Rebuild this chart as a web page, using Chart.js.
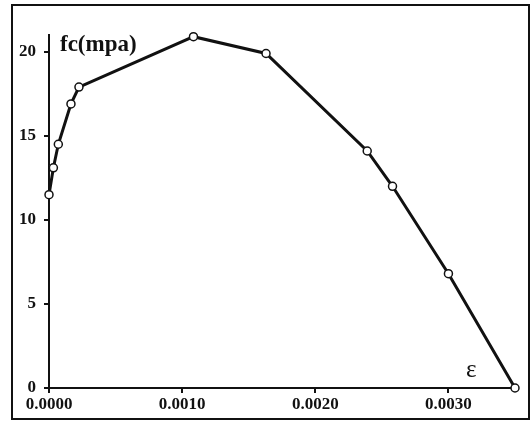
<!DOCTYPE html>
<html>
<head>
<meta charset="utf-8">
<script src="https://cdn.jsdelivr.net/npm/chart.js@4"></script>
<style>
html,body{margin:0;padding:0;background:#fff;}
#wrap{width:531px;height:422px;}
</style>
</head>
<body>
<div id="wrap"><canvas id="c" width="531" height="422"></canvas></div>
<script>
const strainValues = [0.0000, 0.000033, 0.00007, 0.000165, 0.000225, 0.001085, 0.00163, 0.00239, 0.00258, 0.0030, 0.0035];
const stressValues = [11.5, 13.1, 14.5, 16.9, 17.9, 20.9, 19.9, 14.1, 12.0, 6.8, 0.0];
const xTicks = [0, 0.001, 0.002, 0.003];
const yTicks = [0, 5, 10, 15, 20];
const yTitle = 'fc(mpa)';
const xTitle = 'ε';

const points = strainValues.map((x, i) => ({x: x, y: stressValues[i]}));

const framePlugin = {
  id: 'frame',
  beforeDraw(chart) {
    const ctx = chart.ctx;
    ctx.save();
    ctx.fillStyle = '#fff';
    ctx.fillRect(0, 0, chart.width, chart.height);
    ctx.restore();
  },
  afterDraw(chart) {
    const ctx = chart.ctx;
    ctx.save();
    ctx.strokeStyle = '#111';
    ctx.lineWidth = 2;
    ctx.strokeRect(12, 5, 517, 414);
    ctx.fillStyle = '#111';
    ctx.font = 'bold 23px "Liberation Serif", "DejaVu Serif", serif';
    ctx.textBaseline = 'alphabetic';
    ctx.fillText(yTitle, 60, 51);
    ctx.font = '25px "Liberation Serif", "DejaVu Serif", serif';
    ctx.fillText(xTitle, 466, 377);
    ctx.restore();
  }
};

new Chart(document.getElementById('c'), {
  type: 'scatter',
  data: {
    datasets: [{
      data: points,
      showLine: true,
      clip: false,
      borderColor: '#111',
      borderWidth: 3,
      pointRadius: 4,
      pointHoverRadius: 4,
      pointBackgroundColor: '#fff',
      pointBorderColor: '#111',
      pointBorderWidth: 1.5,
      tension: 0
    }]
  },
  options: {
    responsive: false,
    animation: false,
    events: [],
    layout: {padding: {left: 0, top: 35, right: 16, bottom: 0}},
    plugins: {legend: {display: false}, tooltip: {enabled: false}},
    scales: {
      x: {
        type: 'linear',
        min: 0,
        max: 0.0035,
        afterBuildTicks(scale) { scale.ticks = xTicks.map(v => ({value: v})); },
        afterFit(scale) { scale.height = 34; },
        border: {display: true, color: '#111', width: 2},
        grid: {display: true, drawOnChartArea: false, drawTicks: true, tickLength: 5, color: '#111', lineWidth: 2},
        ticks: {
          color: '#111',
          padding: 1,
          maxRotation: 0,
          font: {family: '"Liberation Serif", "DejaVu Serif", serif', size: 17, weight: 'bold'},
          callback: v => Number(v).toFixed(4)
        }
      },
      y: {
        type: 'linear',
        min: 0,
        max: 21,
        afterBuildTicks(scale) { scale.ticks = yTicks.map(v => ({value: v})); },
        afterFit(scale) { scale.width = 49; },
        border: {display: true, color: '#111', width: 2},
        grid: {display: true, drawOnChartArea: false, drawTicks: true, tickLength: 5, color: '#111', lineWidth: 2},
        ticks: {
          color: '#111',
          padding: 8,
          font: {family: '"Liberation Serif", "DejaVu Serif", serif', size: 17, weight: 'bold'},
          callback: v => String(v)
        }
      }
    }
  },
  plugins: [framePlugin]
});
</script>
</body>
</html>
